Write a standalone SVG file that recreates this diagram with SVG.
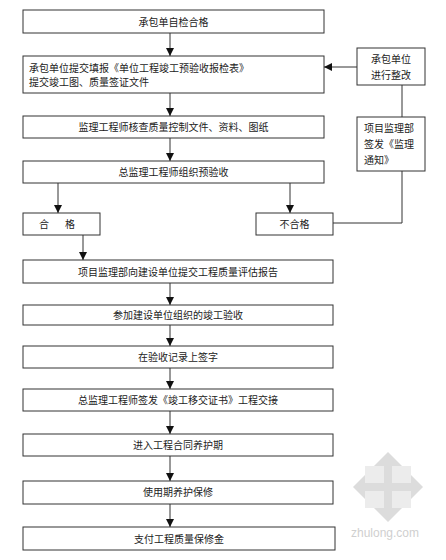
<svg xmlns="http://www.w3.org/2000/svg" width="446" height="560" viewBox="0 0 446 560">
<defs>
<style>
.box{fill:#fff;stroke:#333;stroke-width:1}
.t{font-family:"Noto Sans CJK SC","Liberation Sans",sans-serif;font-size:10px;fill:#222}
.c{text-anchor:middle}
.ln{fill:none;stroke:#333;stroke-width:1}
</style>
<marker id="ah" viewBox="0 0 10 10" refX="10" refY="5" markerWidth="8" markerHeight="8" markerUnits="userSpaceOnUse" orient="auto">
<path d="M0,0 L10,5 L0,10 Z" fill="#111"/>
</marker>
</defs>
<rect width="446" height="560" fill="#fff"/>

<g id="watermark">
<polygon points="388,452 423,487 388,522 353,487" fill="#dcdcdc"/>
<rect x="365" y="466" width="19" height="17" fill="#ececec"/>
<rect x="392" y="466" width="19" height="17" fill="#ececec"/>
<rect x="365" y="491" width="19" height="17" fill="#ececec"/>
<rect x="392" y="491" width="19" height="17" fill="#ececec"/>
<text x="385" y="537" text-anchor="middle" font-family="Liberation Sans, sans-serif" font-size="12" fill="#cfcfcf">zhulong.com</text>
</g>

<g id="connectors">
<line class="ln" x1="170" y1="33" x2="170" y2="56" marker-end="url(#ah)"/>
<line class="ln" x1="170" y1="93" x2="170" y2="116" marker-end="url(#ah)"/>
<line class="ln" x1="170" y1="138" x2="170" y2="161" marker-end="url(#ah)"/>
<line class="ln" x1="58" y1="183" x2="58" y2="213" marker-end="url(#ah)"/>
<line class="ln" x1="290" y1="183" x2="290" y2="213" marker-end="url(#ah)"/>
<line class="ln" x1="83" y1="235" x2="83" y2="260" marker-end="url(#ah)"/>
<line class="ln" x1="170" y1="283" x2="170" y2="305" marker-end="url(#ah)"/>
<line class="ln" x1="170" y1="325" x2="170" y2="346" marker-end="url(#ah)"/>
<line class="ln" x1="170" y1="368" x2="170" y2="389" marker-end="url(#ah)"/>
<line class="ln" x1="170" y1="411" x2="170" y2="434" marker-end="url(#ah)"/>
<line class="ln" x1="170" y1="456" x2="170" y2="481" marker-end="url(#ah)"/>
<line class="ln" x1="170" y1="504" x2="170" y2="527" marker-end="url(#ah)"/>
<polyline class="ln" points="333,223 402,223 402,171"/>
<line class="ln" x1="402" y1="117" x2="402" y2="85"/>
<line class="ln" x1="357" y1="67" x2="324" y2="67" marker-end="url(#ah)"/>
</g>

<g id="n1"><rect class="box" x="23" y="10" width="301" height="23"/><text class="t c" x="173.5" y="25.5">承包单自检合格</text></g>
<g id="n2"><rect class="box" x="23" y="56" width="301" height="37"/><text class="t" x="29" y="71.5">承包单位提交填报《单位工程竣工预验收报检表》</text><text class="t" x="29" y="86">提交竣工图、质量签证文件</text></g>
<g id="n3"><rect class="box" x="23" y="116" width="301" height="22"/><text class="t c" x="173.5" y="130.5">监理工程师核查质量控制文件、资料、图纸</text></g>
<g id="n4"><rect class="box" x="23" y="161" width="301" height="22"/><text class="t c" x="173.5" y="175.5">总监理工程师组织预验收</text></g>
<g id="n5"><rect class="box" x="23" y="213" width="77" height="22"/><text class="t" x="39" y="227.5">合</text><text class="t" x="65" y="227.5">格</text></g>
<g id="n6"><rect class="box" x="256" y="213" width="77" height="22"/><text class="t c" x="294.5" y="227.5">不合格</text></g>
<g id="n7"><rect class="box" x="357" y="48" width="68" height="37"/><text class="t c" x="391" y="62.5">承包单位</text><text class="t c" x="391" y="78.5">进行整改</text></g>
<g id="n8"><rect class="box" x="357" y="117" width="68" height="54"/><text class="t" x="364" y="131.5">项目监理部</text><text class="t" x="364" y="147.5">签发《监理</text><text class="t" x="364" y="163.5">通知》</text></g>
<g id="n9"><rect class="box" x="23" y="260" width="310" height="23"/><text class="t c" x="178" y="275.5">项目监理部向建设单位提交工程质量评估报告</text></g>
<g id="n10"><rect class="box" x="23" y="305" width="310" height="20"/><text class="t c" x="178" y="318.5">参加建设单位组织的竣工验收</text></g>
<g id="n11"><rect class="box" x="23" y="346" width="310" height="22"/><text class="t c" x="178" y="360.5">在验收记录上签字</text></g>
<g id="n12"><rect class="box" x="23" y="389" width="310" height="22"/><text class="t c" x="178" y="403.5">总监理工程师签发《竣工移交证书》工程交接</text></g>
<g id="n13"><rect class="box" x="23" y="434" width="310" height="22"/><text class="t c" x="178" y="448.5">进入工程合同养护期</text></g>
<g id="n14"><rect class="box" x="23" y="481" width="310" height="23"/><text class="t c" x="178" y="495.5">使用期养护保修</text></g>
<g id="n15"><rect class="box" x="23" y="527" width="312" height="23"/><text class="t c" x="179" y="542.5">支付工程质量保修金</text></g>
</svg>
